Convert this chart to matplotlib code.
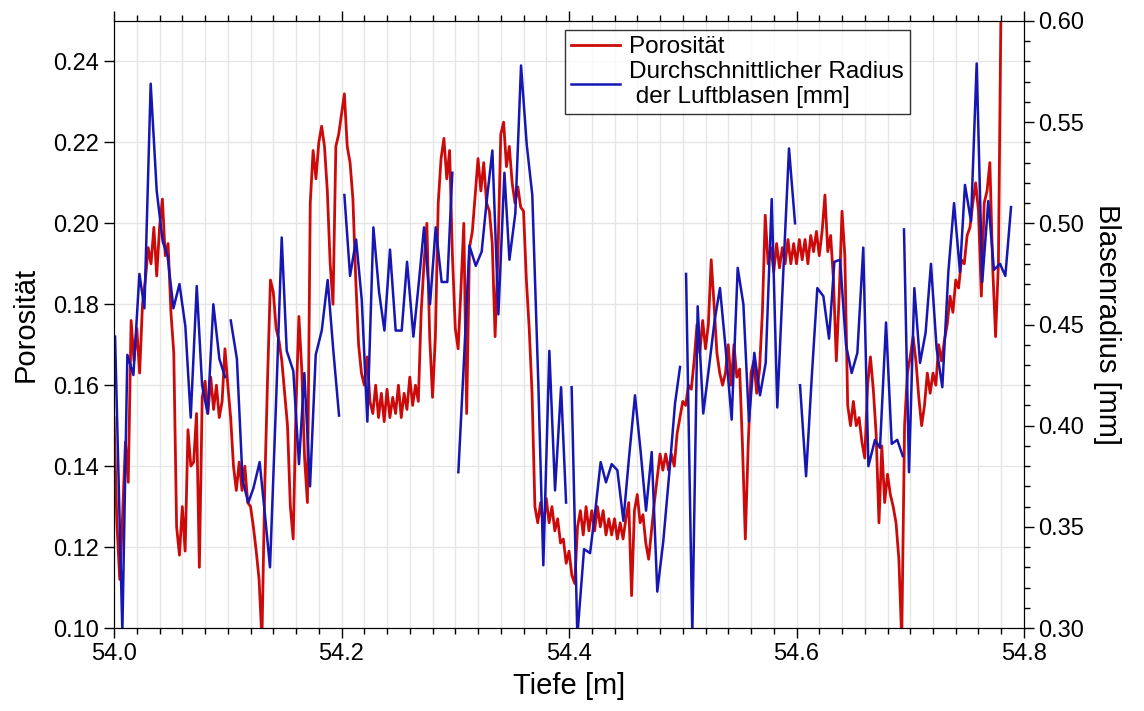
import numpy as np
import matplotlib
matplotlib.use("Agg")
import matplotlib.pyplot as plt
from matplotlib.ticker import MultipleLocator, FormatStrFormatter

plt.rcParams['font.family'] = ['Liberation Sans', 'DejaVu Sans']

# Porosität, sampled every 2.5 mm starting at 54.0 m
por_start = 54.0
por_step = 0.0025
porositaet = [
    0.152, 0.126, 0.112, 0.128,  0.146, 0.136, 0.176, 0.166,
    0.174, 0.163, 0.180, 0.186,  0.194, 0.190, 0.199, 0.187,
    0.199, 0.206, 0.192, 0.195,  0.178, 0.168, 0.125, 0.118,
    0.130, 0.119, 0.149, 0.140,  0.141, 0.153, 0.115, 0.157,
    0.161, 0.153, 0.162, 0.154,  0.160, 0.152, 0.156, 0.169,
    0.160, 0.152, 0.140, 0.134,  0.141, 0.134, 0.140, 0.131,
    0.130, 0.125, 0.119, 0.112,  0.097, 0.135, 0.162, 0.186,
    0.183, 0.174, 0.171, 0.166,  0.158, 0.150, 0.130, 0.122,
    0.155, 0.177, 0.164, 0.142,  0.131, 0.205, 0.218, 0.211,
    0.220, 0.224, 0.219, 0.208,  0.190, 0.180, 0.219, 0.222,
    0.227, 0.232, 0.219, 0.215,  0.206, 0.186, 0.170, 0.163,
    0.160, 0.167, 0.156, 0.153,  0.160, 0.152, 0.158, 0.151,
    0.159, 0.152, 0.157, 0.153,  0.160, 0.152, 0.158, 0.154,
    0.162, 0.155, 0.160, 0.156,  0.178, 0.190, 0.200, 0.172,
    0.157, 0.172, 0.205, 0.216,  0.221, 0.211, 0.218, 0.192,
    0.174, 0.169, 0.184, 0.200,  0.153, 0.194, 0.198, 0.207,
    0.216, 0.208, 0.215, 0.205,  0.203, 0.195, 0.172, 0.192,
    0.222, 0.225, 0.214, 0.219,  0.210, 0.205, 0.209, 0.204,
    0.203, 0.186, 0.174, 0.158,  0.130, 0.126, 0.131, 0.125,
    0.132, 0.126, 0.130, 0.124,  0.127, 0.121, 0.122, 0.116,
    0.119, 0.113, 0.111, 0.125,  0.129, 0.123, 0.130, 0.124,
    0.129, 0.124, 0.130, 0.125,  0.129, 0.123, 0.127, 0.123,
    0.127, 0.122, 0.126, 0.122,  0.127, 0.131, 0.108, 0.129,
    0.133, 0.126, 0.128, 0.121,  0.117, 0.124, 0.131, 0.137,
    0.143, 0.139, 0.143, 0.139,  0.143, 0.140, 0.148, 0.152,
    0.156, 0.155, 0.160, 0.159,  0.166, 0.175, 0.168, 0.176,
    0.169, 0.175, 0.191, 0.180,  0.168, 0.163, 0.160, 0.163,
    0.170, 0.160, 0.170, 0.162,  0.164, 0.145, 0.122, 0.145,
    0.163, 0.166, 0.158, 0.164,  0.178, 0.202, 0.190, 0.194,
    0.188, 0.195, 0.189, 0.194,  0.190, 0.196, 0.190, 0.195,
    0.190, 0.196, 0.191, 0.196,  0.190, 0.197, 0.193, 0.198,
    0.192, 0.198, 0.207, 0.193,  0.197, 0.186, 0.166, 0.182,
    0.203, 0.192, 0.155, 0.150,  0.156, 0.150, 0.152, 0.146,
    0.142, 0.160, 0.167, 0.159,  0.148, 0.126, 0.145, 0.131,
    0.138, 0.133, 0.130, 0.126,  0.117, 0.097, 0.150, 0.163,
    0.167, 0.172, 0.166, 0.157,  0.150, 0.155, 0.163, 0.158,
    0.163, 0.160, 0.170, 0.166,  0.171, 0.175, 0.182, 0.178,
    0.186, 0.184, 0.191, 0.190,  0.197, 0.199, 0.205, 0.210,
    0.203, 0.182, 0.205, 0.208,  0.215, 0.189, 0.172, 0.190,
    0.260,
]

# mean bubble radius, segments of 0.1 m separated by gaps
nan = np.nan
radius_x = [
    54.0009, 54.0073, 54.0117, 54.0170, 54.0223, 54.0267, 54.0322, 54.0375,
    54.0428, 54.0470, 54.0522, 54.0575, 54.0627, 54.0674, 54.0727, 54.0774,
    54.0823, 54.0873, 54.0926, 54.0976, 54.0990,
    54.1026, 54.1080, 54.1130, 54.1180, 54.1225, 54.1280, 54.1325, 54.1371,
    54.1424, 54.1474, 54.1518, 54.1576, 54.1626, 54.1673, 54.1723, 54.1773,
    54.1826, 54.1878, 54.1928, 54.1978, 54.1990,
    54.2025, 54.2075, 54.2128, 54.2178, 54.2227, 54.2280, 54.2330, 54.2377,
    54.2426, 54.2476, 54.2529, 54.2576, 54.2632, 54.2680, 54.2725, 54.2778,
    54.2828, 54.2880, 54.2930, 54.2974, 54.2990,
    54.3027, 54.3077, 54.3124, 54.3180, 54.3232, 54.3276, 54.3326, 54.3379,
    54.3432, 54.3476, 54.3528, 54.3578, 54.3628, 54.3677, 54.3730, 54.3774,
    54.3827, 54.3877, 54.3930, 54.3974, 54.3990,
    54.4023, 54.4073, 54.4132, 54.4185, 54.4235, 54.4278, 54.4325, 54.4375,
    54.4425, 54.4478, 54.4527, 54.4580, 54.4630, 54.4677, 54.4727, 54.4776,
    54.4829, 54.4879, 54.4932, 54.4976, 54.4990,
    54.5029, 54.5084, 54.5131, 54.5180, 54.5231, 54.5280, 54.5327, 54.5377,
    54.5430, 54.5483, 54.5533, 54.5582, 54.5629, 54.5679, 54.5729, 54.5782,
    54.5831, 54.5884, 54.5934, 54.5987, 54.5995,
    54.6031, 54.6084, 54.6134, 54.6183, 54.6236, 54.6286, 54.6333, 54.6383,
    54.6435, 54.6485, 54.6535, 54.6587, 54.6632, 54.6690, 54.6734, 54.6787,
    54.6837, 54.6886, 54.6934, 54.6940,
    54.6945, 54.6989, 54.7036, 54.7086, 54.7135, 54.7182, 54.7232, 54.7282,
    54.7335, 54.7385, 54.7437, 54.7481, 54.7534, 54.7584, 54.7633, 54.7686,
    54.7736, 54.7789, 54.7836, 54.7886,
]
radius_mm = [
    0.444, 0.298, 0.435, 0.425, 0.475, 0.458, 0.569, 0.516,
    0.491, 0.484, 0.458, 0.470, 0.449, 0.404, 0.469, 0.420,
    0.406, 0.460, 0.433, 0.424, nan,
    0.452, 0.433, 0.373, 0.362, 0.369, 0.382, 0.357, 0.330,
    0.411, 0.493, 0.437, 0.427, 0.381, 0.426, 0.370, 0.435,
    0.447, 0.472, 0.437, 0.405, nan,
    0.514, 0.474, 0.492, 0.462, 0.402, 0.498, 0.466, 0.447,
    0.487, 0.447, 0.447, 0.481, 0.444, 0.471, 0.498, 0.460,
    0.498, 0.471, 0.471, 0.525, nan,
    0.377, 0.433, 0.489, 0.479, 0.486, 0.511, 0.536, 0.455,
    0.525, 0.482, 0.505, 0.578, 0.539, 0.514, 0.421, 0.331,
    0.437, 0.368, 0.419, 0.362, nan,
    0.419, 0.296, 0.339, 0.337, 0.360, 0.382, 0.372, 0.381,
    0.378, 0.353, 0.384, 0.415, 0.387, 0.358, 0.387, 0.318,
    0.343, 0.375, 0.411, 0.429, nan,
    0.475, 0.297, 0.459, 0.406, 0.429, 0.452, 0.468, 0.438,
    0.403, 0.478, 0.460, 0.402, 0.436, 0.415, 0.431, 0.512,
    0.409, 0.476, 0.537, 0.500, nan,
    0.420, 0.375, 0.424, 0.468, 0.464, 0.443, 0.481, 0.482,
    0.440, 0.426, 0.436, 0.488, 0.380, 0.393, 0.389, 0.451,
    0.391, 0.393, 0.385, nan,
    0.497, 0.377, 0.468, 0.431, 0.446, 0.480, 0.438, 0.419,
    0.476, 0.510, 0.476, 0.519, 0.501, 0.579, 0.471, 0.511,
    0.477, 0.480, 0.474, 0.508,
]

por_x = por_start + por_step * np.arange(len(porositaet))

red = '#cc0a0a'
blue = '#1616b2'

fig = plt.figure(figsize=(11.44, 7.11), dpi=100)
ax = fig.add_axes([0.0997, 0.1167, 0.7954, 0.8538])
ax2 = ax.twinx()

l1, = ax.plot(por_x, porositaet, color=red, lw=2.0, label='Porosität')
l2, = ax2.plot(radius_x, radius_mm, color=blue, lw=1.8,
               label='Durchschnittlicher Radius\n der Luftblasen [mm]')

ax.set_xlim(54.0, 54.8)
ax.set_ylim(0.10, 0.25)
ax2.set_ylim(0.30, 0.60)

ax.xaxis.set_major_locator(MultipleLocator(0.2))
ax.xaxis.set_minor_locator(MultipleLocator(0.02))
ax.xaxis.set_major_formatter(FormatStrFormatter('%.1f'))
ax.yaxis.set_major_locator(MultipleLocator(0.02))
ax.yaxis.set_major_formatter(FormatStrFormatter('%.2f'))
ax2.yaxis.set_major_locator(MultipleLocator(0.05))
ax2.yaxis.set_minor_locator(MultipleLocator(0.01))
ax2.yaxis.set_major_formatter(FormatStrFormatter('%.2f'))

ax.grid(which='both', axis='x', color='#e6e6e6', lw=1)
ax.grid(which='major', axis='y', color='#e6e6e6', lw=1)
ax.set_axisbelow(True)

ax.tick_params(which='both', direction='out', top=True, labelsize=17, width=1)
ax.tick_params(which='major', length=7)
ax.tick_params(which='minor', length=4)
ax2.tick_params(which='both', direction='out', labelsize=17, width=1)
ax2.tick_params(which='major', length=7)
ax2.tick_params(which='minor', length=4)

ax.set_xlabel('Tiefe [m]', fontsize=21, labelpad=5)
ax.set_ylabel('Porosität', fontsize=21, labelpad=10)
ax2.set_ylabel('Blasenradius [mm]', fontsize=21, rotation=-90, labelpad=26)

leg = ax2.legend(handles=[l1, l2], loc='upper left',
                 bbox_to_anchor=(0.4956, 0.985), borderaxespad=0,
                 fontsize=17.5, frameon=True, fancybox=False,
                 handlelength=2.0, handletextpad=0.4, borderpad=0.25,
                 labelspacing=0.1)
leg.get_frame().set_edgecolor('black')
leg.get_frame().set_linewidth(1)

fig.savefig('out.png', dpi=100)
